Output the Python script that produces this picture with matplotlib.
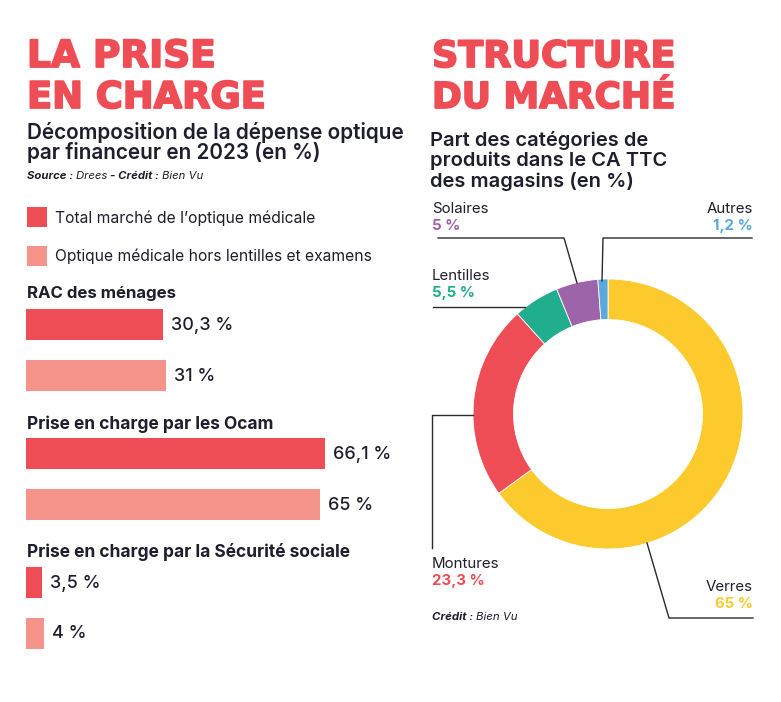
import matplotlib
matplotlib.use("Agg")
import matplotlib.pyplot as plt
import matplotlib.patheffects as pe
from matplotlib.transforms import Affine2D
from matplotlib.lines import Line2D
from matplotlib.patches import Rectangle

# ---------------- data ----------------
groups = ["RAC des ménages", "Prise en charge par les Ocam", "Prise en charge par la Sécurité sociale"]
series_names = ["Total marché de l\u2019optique médicale", "Optique médicale hors lentilles et examens"]
total_values = [30.3, 66.1, 3.5]
hors_lentilles_values = [31, 65, 4]

pie_labels = ["Verres", "Montures", "Lentilles", "Solaires", "Autres"]
pie_values = [65, 23.3, 5.5, 5, 1.2]

# ---------------- style ----------------
W, H = 781, 702
FONT = "Inter"
TITLE_FONT = "DejaVu Sans"
RED = "#EF4D55"
SALMON = "#F4948A"
DARK = "#1E1E2C"
pie_colors = ["#FDCA2E", "#EF4D55", "#20AE8E", "#9E64A9", "#5AA8DC"]

plt.rcParams["font.family"] = [FONT, "DejaVu Sans"]

fig = plt.figure(figsize=(W / 100, H / 100), dpi=100)
fig.patch.set_facecolor("white")
PX = Affine2D().scale(1 / W, -1 / H).translate(0, 1) + fig.transFigure
renderer = fig.canvas.get_renderer()


def pt(px):
    return px * 0.72


def txt(x, y, s, size, weight="normal", color=DARK, ha="left", style="normal", family=None,
        fit=None, **extra):
    kw = {}
    if family:
        kw["family"] = family
    t = fig.text(x, y, s, transform=PX, fontsize=pt(size), fontweight=weight,
                 color=color, ha=ha, va="baseline", fontstyle=style, **kw, **extra)
    if fit:
        w = t.get_window_extent(renderer=renderer).width
        t.set_fontsize(t.get_fontsize() * fit / w)
    return t


def runs(x, y, parts, size, fit=None):
    def place(sz):
        xx = x
        made = []
        for s, weight, style in parts:
            t = txt(xx, y, s, sz, weight=weight, style=style)
            xx += t.get_window_extent(renderer=renderer).width
            made.append(t)
        return made, xx - x
    made, total = place(size)
    if fit:
        for t in made:
            t.remove()
        place(size * fit / total)


def fmt(v):
    return f"{v:g}".replace(".", ",") + " %"


heavy = [pe.withStroke(linewidth=1.3, foreground=RED)]

# ---------------- left panel ----------------
txt(27, 67, "LA PRISE", 37.5, weight="bold", color=RED, family=TITLE_FONT, fit=189, path_effects=heavy)
txt(27, 108, "EN CHARGE", 37.5, weight="bold", color=RED, family=TITLE_FONT, fit=239, path_effects=heavy)
# multi-line text: y is the baseline of the last line
txt(27, 159, "Décomposition de la dépense optique\npar financeur en 2023 (en %)", 20.5,
    weight="semibold", fit=376, linespacing=0.92)
runs(27, 179, [("Source : ", "bold", "italic"), ("Drees ", "normal", "italic"),
               ("- Crédit : ", "bold", "italic"), ("Bien Vu", "normal", "italic")], 10.4, fit=176)

legend_fit = [258, 314]
for i, (name, col) in enumerate(zip(series_names, [RED, SALMON])):
    y0 = 207 + i * 38.5
    fig.patches.append(Rectangle((27, y0), 20, 20, transform=PX, facecolor=col, edgecolor="none"))
    txt(55, y0 + 16, name, 15.3, fit=legend_fit[i])

group_label_y = [298, 429, 557]
group_label_fit = [150, 247, 324]
bar_centers = [324.5, 453.5, 582]
pitch = 51
scale = 4.52  # px per %
ax_left, ax_width = 26, 374
for g in range(3):
    c0 = bar_centers[g]
    top = c0 - 20.5
    ax = fig.add_axes([ax_left / W, 1 - (top + 92) / H, ax_width / W, 92 / H])
    vals = [total_values[g], hors_lentilles_values[g]]
    ax.barh([0, 1], vals, height=31 / pitch, color=[RED, SALMON], edgecolor="none")
    ax.set_xlim(0, ax_width / scale)
    ax.set_ylim(1 + 20.5 / pitch + (92 - 20.5 - pitch - 20.5) / pitch, -20.5 / pitch)
    ax.axis("off")
    for i, v in enumerate(vals):
        ax.annotate(fmt(v), xy=(v, i), xytext=(pt(8), pt(-5.5)), textcoords="offset points",
                    ha="left", va="baseline", fontsize=pt(18), fontweight="medium", color=DARK)
    txt(27, group_label_y[g], groups[g], 15.9, weight="bold", fit=group_label_fit[g])

# ---------------- right panel ----------------
txt(432, 67, "STRUCTURE", 36.5, weight="bold", color=RED, family=TITLE_FONT, fit=244, path_effects=heavy)
txt(432, 108, "DU MARCHÉ", 36.5, weight="bold", color=RED, family=TITLE_FONT, fit=244, path_effects=heavy)
txt(430, 187, "Part des catégories de\nproduits dans le CA TTC\ndes magasins (en %)", 20.3,
    weight="semibold", fit=237, linespacing=1.11)

cx, cy, R = 608, 414, 135
side = 2.5 * R
pax = fig.add_axes([(cx - side / 2) / W, 1 - (cy + side / 2) / H, side / W, side / H])
pax.pie(pie_values, colors=pie_colors, startangle=90, counterclock=False,
        wedgeprops=dict(width=0.30, edgecolor="white", linewidth=0.6))
pax.set_xlim(-1.25, 1.25)
pax.set_ylim(-1.25, 1.25)
pax.set_aspect("equal")
pax.axis("off")

lc = "#2A2A2A"
leaders = [
    [(438, 238), (564, 238), (577, 283)],            # Solaires
    [(752, 238), (603, 238), (602, 281)],            # Autres
    [(433, 307), (525, 307)],                        # Lentilles
    [(432, 548), (432, 415), (473, 415)],            # Montures
    [(647, 543), (669, 618), (753, 618)],            # Verres
]
for pts in leaders:
    xs, ys = zip(*pts)
    fig.add_artist(Line2D(xs, ys, transform=PX, color=lc, lw=1.0))

label_pos = {
    "Solaires": (432, 213, "left"),
    "Autres": (753, 213, "right"),
    "Lentilles": (432, 280, "left"),
    "Montures": (432, 568, "left"),
    "Verres": (753, 591, "right"),
}
for name, val, col in zip(pie_labels, pie_values, pie_colors):
    x, y, ha = label_pos[name]
    txt(x, y, name, 15, ha=ha)
    txt(x, y + 17, fmt(val), 15, weight="bold", color=col, ha=ha)

runs(432, 620, [("Crédit : ", "bold", "italic"), ("Bien Vu", "normal", "italic")], 10.6, fit=85)

fig.savefig("out.png", dpi=100, facecolor="white")
